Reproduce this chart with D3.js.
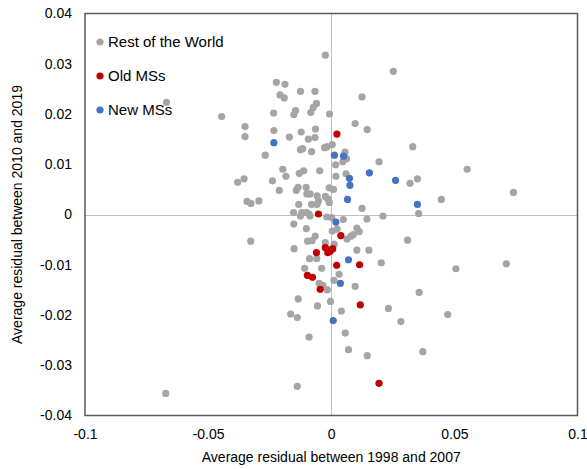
<!DOCTYPE html>
<html><head><meta charset="utf-8">
<script src="https://cdn.jsdelivr.net/npm/d3@7"></script>
<style>body{margin:0;background:#fff}svg{display:block}text{font-family:"Liberation Sans",Arial,sans-serif;fill:#000}</style>
</head><body><svg id="c" width="587" height="469"></svg>
<script>
const seriesNames = ["Rest of the World", "Old MSs", "New MSs"];
const xTicks = [-0.1, -0.05, 0, 0.05, 0.1];
const yTicks = [-0.04, -0.03, -0.02, -0.01, 0, 0.01, 0.02, 0.03, 0.04];
const xTitle = "Average residual between 1998 and 2007";
const yTitle = "Average residual between 2010 and 2019";

const restX = [-0.0024,0.0252,-0.0223,-0.0188,-0.0125,-0.0066,-0.0208,-0.0191,0.0125,-0.0669,-0.0060,-0.0073,-0.0083,-0.0145,-0.0152,-0.0234,-0.0007,-0.0445,0.0097,-0.0350,0.0146,-0.0233,-0.0122,-0.0064,-0.0350,-0.0170,-0.0093,-0.0066,0.0004,0.0331,-0.0268,-0.0125,-0.0116,-0.0080,-0.0027,-0.0017,0.0056,0.0062,0.0047,0.0194,0.0018,-0.0197,-0.0184,-0.0130,-0.0112,-0.0047,0.0552,0.0060,0.0019,-0.0380,-0.0354,-0.0239,-0.0211,-0.0142,-0.0135,-0.0102,-0.0099,-0.0086,-0.0057,-0.0052,-0.0024,-0.0014,-0.0008,0.0009,0.0320,0.0350,0.0740,-0.0342,-0.0326,-0.0294,-0.0132,-0.0080,-0.0058,-0.0008,0.0447,0.0125,0.0355,0.0210,0.0145,0.0049,-0.0153,-0.0125,-0.0120,-0.0101,-0.0090,-0.0086,-0.0018,0.0002,-0.0152,-0.0101,0.0104,0.0114,0.0004,0.0024,-0.0065,-0.0096,-0.0078,0.0090,0.0080,0.0064,-0.0327,-0.0024,0.0012,0.0310,-0.0151,0.0104,0.0153,-0.0088,-0.0059,0.0203,0.0711,-0.0108,-0.0039,0.0506,0.0032,0.0011,-0.0049,-0.0034,0.0097,-0.0016,0.0357,-0.0134,-0.0003,-0.0056,0.0041,0.0232,0.0473,-0.0165,-0.0138,0.0283,0.0057,-0.0090,0.0070,0.0372,0.0146,-0.0138,-0.0672];
const restY = [0.0317,0.0285,0.0263,0.0259,0.0245,0.0245,0.0238,0.0232,0.0234,0.0223,0.0221,0.0213,0.0203,0.0207,0.0199,0.0202,0.0200,0.0195,0.0181,0.0175,0.0169,0.0167,0.0164,0.0170,0.0155,0.0154,0.0150,0.0153,0.0139,0.0135,0.0118,0.0129,0.0131,0.0125,0.0133,0.0135,0.0124,0.0111,0.0105,0.0105,0.0099,0.0090,0.0076,0.0082,0.0087,0.0087,0.0090,0.0081,0.0076,0.0064,0.0071,0.0067,0.0048,0.0048,0.0054,0.0054,0.0041,0.0041,0.0037,0.0027,0.0036,0.0031,0.0053,0.0050,0.0062,0.0071,0.0044,0.0026,0.0022,0.0027,0.0020,0.0020,0.0020,0.0024,0.0030,0.0012,0.0002,-0.0003,-0.0009,-0.0010,0.0004,-0.0003,0.0004,0.0004,0.0001,-0.0003,-0.0005,-0.0006,-0.0019,-0.0028,-0.0027,-0.0034,-0.0033,-0.0029,-0.0043,-0.0053,-0.0052,-0.0040,-0.0043,-0.0049,-0.0053,-0.0056,-0.0059,-0.0051,-0.0068,-0.0071,-0.0071,-0.0088,-0.0088,-0.0096,-0.0098,-0.0107,-0.0107,-0.0108,-0.0119,-0.0131,-0.0137,-0.0141,-0.0143,-0.0150,-0.0155,-0.0168,-0.0173,-0.0182,-0.0192,-0.0187,-0.0199,-0.0198,-0.0205,-0.0213,-0.0236,-0.0244,-0.0269,-0.0273,-0.0281,-0.0342,-0.0356];

const oldX = [0.0023,-0.0052,0.0039,-0.0024,-0.0012,-0.0014,0.0006,-0.0004,-0.0060,0.0022,0.0115,-0.0097,-0.0076,-0.0045,0.0118,0.0194];
const oldY = [0.0160,0.0001,-0.0042,-0.0066,-0.0071,-0.0076,-0.0068,-0.0073,-0.0076,-0.0101,-0.0100,-0.0121,-0.0125,-0.0149,-0.0180,-0.0336];

const newX = [-0.0233,0.0013,0.0050,0.0155,0.0074,0.0076,0.0261,0.0066,0.0350,0.0019,0.0070,0.0037,0.0008];
const newY = [0.0143,0.0118,0.0116,0.0083,0.0072,0.0058,0.0068,0.0030,0.0020,-0.0015,-0.0090,-0.0137,-0.0211];

const colors = ["#a5a5a5", "#c00000", "#4472c4"];
const series = [
  {name: seriesNames[0], xs: restX, ys: restY, color: colors[0]},
  {name: seriesNames[1], xs: oldX, ys: oldY, color: colors[1]},
  {name: seriesNames[2], xs: newX, ys: newY, color: colors[2]}
];

const svg = d3.select("#c");
const L = 85, R = 577.5, T = 13.5, B = 415.5;
const x = d3.scaleLinear().domain([-0.1, 0.1]).range([L, R]);
const y = d3.scaleLinear().domain([-0.04, 0.04]).range([B, T]);
const fmt = v => v === 0 ? "0" : String(+v.toFixed(2));

// zero lines
svg.append("line").attr("x1", L).attr("x2", R).attr("y1", Math.round(y(0)) + 0.5).attr("y2", Math.round(y(0)) + 0.5)
  .attr("stroke", "#bfbfbf").attr("stroke-width", 1);
svg.append("line").attr("y1", T).attr("y2", B).attr("x1", Math.round(x(0)) + 0.5).attr("x2", Math.round(x(0)) + 0.5)
  .attr("stroke", "#bfbfbf").attr("stroke-width", 1);

// axes (labels only)
const ax = svg.append("g").attr("transform", `translate(0,${B})`)
  .call(d3.axisBottom(x).tickValues(xTicks).tickFormat(fmt).tickSize(0).tickPadding(14));
const ay = svg.append("g").attr("transform", `translate(${L},0)`)
  .call(d3.axisLeft(y).tickValues(yTicks).tickFormat(fmt).tickSize(0).tickPadding(13));
[ax, ay].forEach(g => {
  g.select(".domain").remove();
  g.selectAll("text").style("font-family", '"Liberation Sans",Arial,sans-serif').style("font-size", "14px").attr("fill", "#000");
});

// border
svg.append("rect").attr("x", L).attr("y", T).attr("width", R - L).attr("height", B - T)
  .attr("fill", "none").attr("stroke", "#595959").attr("stroke-width", 1.5);

// points
series.forEach(s => {
  svg.append("g").selectAll("circle").data(s.xs.map((v, i) => [v, s.ys[i]])).join("circle")
    .attr("cx", d => x(d[0])).attr("cy", d => y(d[1])).attr("r", 3.6).attr("fill", s.color);
});

// titles
svg.append("text").attr("x", (L + R) / 2).attr("y", 462).attr("text-anchor", "middle")
  .style("font-size", "14px").text(xTitle);
svg.append("text").attr("transform", `translate(22,${(T + B) / 2}) rotate(-90)`).attr("text-anchor", "middle")
  .style("font-size", "14px").text(yTitle);

// legend
const lg = svg.append("g");
series.forEach((s, i) => {
  const cy = 42 + i * 34;
  lg.append("circle").attr("cx", 100).attr("cy", cy).attr("r", 3.6).attr("fill", s.color);
  lg.append("text").attr("x", 108).attr("y", cy + 5).style("font-size", "15px").text(s.name);
});
</script></body></html>
